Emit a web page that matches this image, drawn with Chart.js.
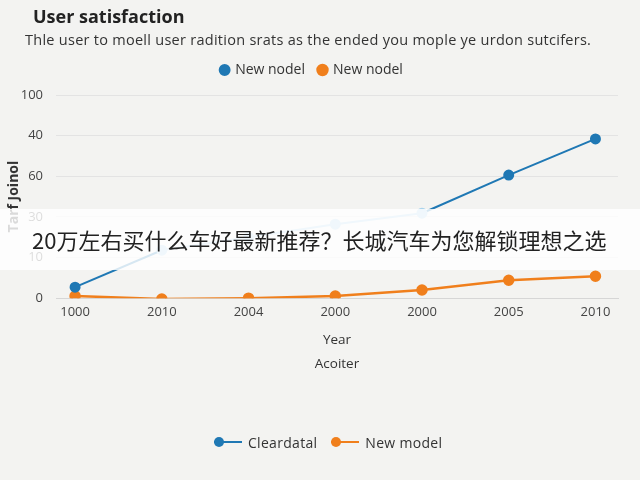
<!DOCTYPE html>
<html>
<head>
<meta charset="utf-8">
<script src="https://cdn.jsdelivr.net/npm/chart.js@4"></script>
<style>
  body { margin: 0; background: #f3f3f1; font-family: "Open Sans", sans-serif; }
  #wrap { position: relative; width: 640px; height: 480px; }
  #chart { position: absolute; left: 0; top: 0; }
  .title { position: absolute; left: 33px; top: 4px; font-size: 18px; font-weight: bold; color: #222; }
  .sub { position: absolute; left: 25px; top: 30px; font-size: 14.5px; letter-spacing: 0.27px; color: #333; white-space: nowrap; }
  .banner { position: absolute; left: 0; top: 209px; width: 640px; height: 61px; background: rgba(255,255,255,0.82);
            font-family: "Noto Sans CJK SC", sans-serif; font-size: 22px; color: #222; line-height: 61px; padding-left: 32px; box-sizing: border-box; white-space: nowrap; }
  .bottomLegend { position: absolute; top: 431px; left: 214px; font-size: 14px; letter-spacing: 0.3px; color: #333; }
  .bottomLegend span { display: inline-block; vertical-align: middle; }
  .ln { width: 28px; height: 2px; position: relative; margin-right: 6px; }
  .ln::before { content: ""; position: absolute; left: 0; top: -4px; width: 10px; height: 10px; border-radius: 50%; background: inherit; }
</style>
</head>
<body>
<div id="wrap">
  <canvas id="chart" width="640" height="480"></canvas>
  <div class="title">User satisfaction</div>
  <div class="sub">Thle user to moell user radition srats as the ended you mople ye urdon sutcifers.</div>
  <div class="banner">20万左右买什么车好最新推荐？长城汽车为您解锁理想之选</div>
  <div class="bottomLegend">
    <span class="ln" style="background:#1f78b4"></span><span style="margin-right:10px">Cleardatal</span>
    <span class="ln" style="background:#f07f1c"></span><span>New model</span>
  </div>
</div>
<script>
// x categories (as printed on the chart)
const years = ['1000', '2010', '2004', '2000', '2000', '2005', '2010'];
// y tick labels, evenly spaced as printed
const yLabels = ['0', '10', '30', '60', '40', '100'];
// values are in tick-slot units (0 = first tick, 5 = last tick)
const blueValues = [0.27, 1.18, 1.5, 1.82, 2.09, 3.03, 3.92];
const orangeValues = [0.05, -0.02, 0.0, 0.05, 0.2, 0.44, 0.54];
const seriesNames = ['New nodel', 'New nodel'];

const dark = '#1f78b4';
const light = '#a9d3ec';
const orange = '#f07f1c';
const lightIdx = [1, 2, 3, 4];

// extra room under the top legend
const legendGap = {
    id: 'legendGap',
    beforeInit(chart) {
        const fit = chart.legend.fit;
        chart.legend.fit = function () {
            fit.bind(chart.legend)();
            this.height += 8;
        };
    }
};

const ctx = document.getElementById('chart').getContext('2d');
new Chart(ctx, {
    type: 'line',
    data: {
        datasets: [{
            label: seriesNames[0],
            data: blueValues.map((v, i) => ({ x: i, y: v })),
            borderColor: dark,
            backgroundColor: dark,
            pointBackgroundColor: blueValues.map((v, i) => lightIdx.includes(i) ? light : dark),
            pointBorderColor: blueValues.map((v, i) => lightIdx.includes(i) ? light : dark),
            borderWidth: 2,
            pointRadius: 4.5,
            segment: {
                borderColor: c => (c.p0DataIndex >= 1 && c.p0DataIndex <= 3) ? light : dark
            }
        }, {
            label: seriesNames[1],
            data: orangeValues.map((v, i) => ({ x: i, y: v })),
            borderColor: orange,
            backgroundColor: orange,
            borderWidth: 2.5,
            pointRadius: 4.5
        }]
    },
    plugins: [legendGap],
    options: {
        responsive: false,
        animation: false,
        layout: { padding: { top: 49, right: 22, bottom: 100, left: 6 } },
        plugins: {
            legend: {
                labels: {
                    usePointStyle: true,
                    pointStyle: 'circle',
                    boxWidth: 7,
                    boxHeight: 7,
                    padding: 14,
                    color: '#333',
                    font: { family: 'Open Sans', size: 14 }
                }
            },
            tooltip: { enabled: false }
        },
        scales: {
            x: {
                type: 'linear',
                min: -0.22,
                max: 6.26,
                grid: { display: false, drawTicks: false },
                border: { color: '#d6d6d6' },
                ticks: {
                    stepSize: 1,
                    autoSkip: false,
                    padding: 6,
                    color: '#444',
                    font: { family: 'Open Sans', size: 13 },
                    callback: v => years[v]
                },
                afterBuildTicks: s => { s.ticks = years.map((y, i) => ({ value: i })); },
                title: {
                    display: true,
                    text: ['Year', 'Acoiter'],
                    color: '#333',
                    font: { family: 'Open Sans', size: 13.5, lineHeight: 1.75 },
                    padding: { top: 3 }
                }
            },
            y: {
                min: 0,
                max: 5,
                grid: { color: '#e3e3e3', drawTicks: false },
                border: { display: false },
                ticks: {
                    stepSize: 1,
                    padding: 13,
                    color: '#444',
                    font: { family: 'Open Sans', size: 13 },
                    callback: v => yLabels[v]
                },
                afterFit: s => { s.width = 50; },
                title: {
                    display: true,
                    text: 'Tarf Joinol',
                    color: '#333',
                    font: { family: 'Open Sans', size: 14, weight: 'bold' },
                    padding: 0
                }
            }
        }
    }
});
</script>
</body>
</html>
